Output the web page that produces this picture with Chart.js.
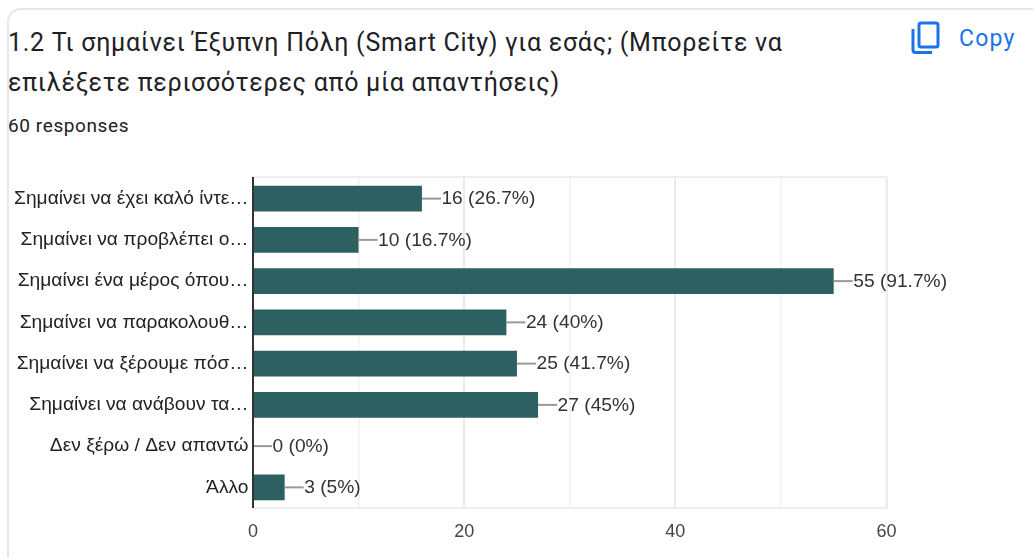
<!DOCTYPE html>
<html>
<head>
<meta charset="utf-8">
<script src="https://cdn.jsdelivr.net/npm/chart.js@4/dist/chart.umd.min.js"></script>
<style>
html, body { margin: 0; padding: 0; background: #fff; width: 1033px; height: 558px; overflow: hidden; }
#card { position: absolute; left: 7px; top: 8px; width: 1200px; height: 700px; border: 2px solid #e8e8e8; border-radius: 14px; box-sizing: border-box; }
.title { position: absolute; left: 8px; font: 25px/1 Roboto, sans-serif; color: #202124; letter-spacing: 0.72px; white-space: nowrap; }
#sub { position: absolute; left: 8px; top: 116px; font: 19px/1 Roboto, sans-serif; color: #202124; letter-spacing: .6px; }
#copy { position: absolute; left: 959px; top: 27px; font: 400 23px/1 Roboto, sans-serif; color: #1a73e8; letter-spacing: 1.2px; }
#icon { position: absolute; left: 911px; top: 21px; }
#myChart { position: absolute; left: 0; top: 0; }
</style>
</head>
<body>
<div id="card"></div>
<div class="title" style="top:30px">1.2 Τι σημαίνει Έξυπνη Πόλη (Smart City) για εσάς; (Μπορείτε να</div>
<div class="title" style="top:70px">επιλέξετε περισσότερες από μία απαντήσεις)</div>
<div id="sub">60 responses</div>
<svg id="icon" width="30" height="34" viewBox="0 0 30 34" fill="none" stroke="#1a73e8" stroke-width="3">
  <rect x="8" y="2" width="19" height="24" rx="2"/>
  <path d="M2 8 V29 a2.5 2.5 0 0 0 2.5 2.5 H21"/>
</svg>
<div id="copy">Copy</div>
<canvas id="myChart" width="1033" height="558"></canvas>
<script>
const categories = [
    'Σημαίνει να έχει καλό ίντε…',
    'Σημαίνει να προβλέπει ο…',
    'Σημαίνει ένα μέρος όπου…',
    'Σημαίνει να παρακολουθ…',
    'Σημαίνει να ξέρουμε πόσ…',
    'Σημαίνει να ανάβουν τα…',
    'Δεν ξέρω / Δεν απαντώ',
    'Άλλο'
];
const counts = [16, 10, 55, 24, 25, 27, 0, 3];
const percents = ['26.7%', '16.7%', '91.7%', '40%', '41.7%', '45%', '0%', '5%'];
const xTicks = [0, 10, 20, 30, 40, 50, 60];
const xLabelled = [0, 20, 40, 60];

const labelFont = '19.2px "Liberation Sans", Arial, sans-serif';

// frame, zero line and the "16 (26.7%)" labels with their leader lines
const barLabels = {
    id: 'barLabels',
    beforeDatasetsDraw(chart) {
        const a = chart.chartArea, ctx = chart.ctx;
        ctx.save();
        ctx.strokeStyle = '#eeeeee';
        ctx.lineWidth = 2;
        ctx.strokeRect(a.left, a.top - 1, a.right - a.left, a.bottom - a.top + 1);
        ctx.restore();
    },
    afterDatasetsDraw(chart) {
        const ctx = chart.ctx, a = chart.chartArea;
        const xs = chart.scales.x, ys = chart.scales.y;
        ctx.save();
        counts.forEach((v, i) => {
            const x = xs.getPixelForValue(v), y = ys.getPixelForValue(i);
            ctx.strokeStyle = '#999999';
            ctx.lineWidth = 2;
            ctx.beginPath();
            ctx.moveTo(x, y);
            ctx.lineTo(x + 19, y);
            ctx.stroke();
            ctx.fillStyle = '#333333';
            ctx.font = labelFont;
            ctx.textAlign = 'left';
            ctx.textBaseline = 'middle';
            ctx.fillText(v + ' (' + percents[i] + ')', x + 19.5, y + 0.5);
        });
        ctx.strokeStyle = '#333333';
        ctx.lineWidth = 2;
        ctx.beginPath();
        ctx.moveTo(xs.getPixelForValue(0), a.top - 1);
        ctx.lineTo(xs.getPixelForValue(0), a.bottom);
        ctx.stroke();
        ctx.restore();
    }
};

const config = {
    type: 'bar',
    data: {
        labels: categories,
        datasets: [{
            data: counts,
            backgroundColor: '#2d6161',
            categoryPercentage: 1,
            barPercentage: 0.63
        }]
    },
    options: {
        indexAxis: 'y',
        responsive: false,
        animation: false,
        layout: { padding: { top: 178, right: 146.5, left: 0, bottom: 0 } },
        plugins: { legend: { display: false }, tooltip: { enabled: false } },
        scales: {
            x: {
                min: 0,
                max: 60,
                afterFit: function (scale) { scale.height = 50; },
                afterBuildTicks: function (scale) { scale.ticks = xTicks.map(v => ({ value: v })); },
                border: { display: false },
                grid: {
                    lineWidth: 2,
                    drawTicks: false,
                    // minor lines at 10, 30, 50 are fainter
                    color: function (context) {
                        return xLabelled.includes(context.tick.value) ? '#ebebeb' : '#f5f5f5';
                    }
                },
                ticks: {
                    color: '#444444', padding: 13, maxRotation: 0, autoSkip: false,
                    font: { family: '"Liberation Sans", Arial, sans-serif', size: 18 },
                    callback: function (value) { return xLabelled.includes(value) ? value : ''; }
                }
            },
            y: {
                afterFit: function (scale) { scale.width = 253; },
                border: { display: false },
                grid: { display: false, drawTicks: false },
                ticks: { color: '#222222', padding: 4.5, autoSkip: false, font: { family: '"Liberation Sans", Arial, sans-serif', size: 19.2 } }
            }
        }
    },
    plugins: [barLabels]
};

var myChart = new Chart(document.getElementById('myChart'), config);
</script>
</body>
</html>
